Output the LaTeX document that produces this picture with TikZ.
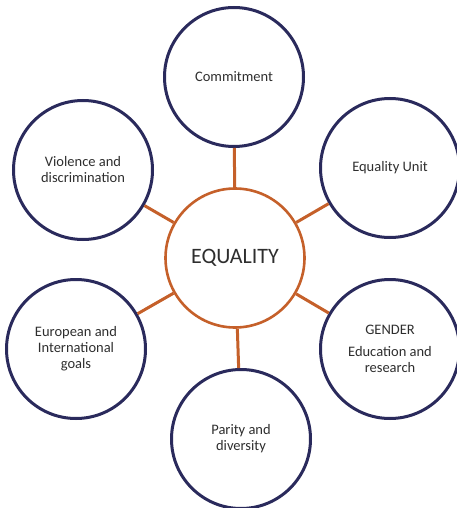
\documentclass[tikz,border=0pt]{standalone}
\usepackage{fontspec}
\setmainfont{Carlito}
\usepackage{xcolor}
\definecolor{navy}{HTML}{2A2A5C}
\definecolor{rust}{HTML}{C5602A}
\definecolor{ink}{HTML}{2E2E2E}

\tikzset{
  hub/.style={circle, draw=rust, line width=2.6pt, minimum size=139pt, inner sep=0pt,
    font=\fontsize{22}{26}\selectfont, text=ink},
  topic/.style={circle, draw=navy, line width=3pt, minimum size=139pt, inner sep=0pt,
    align=center, font=\fontsize{14.5}{16}\selectfont, text=ink},
  spoke/.style={draw=rust, line width=3pt}
}

\begin{document}
\begin{tikzpicture}[x=1pt, y=-1pt]
    \useasboundingbox (0,0) rectangle (456,508);

    % Centro
    \node[hub] (eq) at (235,258) {EQUALITY};

    % Temas
    \foreach \name/\x/\y/\txt in {
        commit/234/77/{Commitment},
        unit/390/168/{Equality Unit},
        gender/390/349/{GENDER\\[6pt]Education and\\research},
        parity/241/439/{Parity and\\diversity},
        europe/76/349/{European and\\International\\goals},
        violence/83/170/{Violence and\\discrimination}} {
      \node[topic] (\name) at (\x,\y) {\txt};
    }

    % Ligacoes
    \foreach \name in {commit, unit, gender, parity, europe, violence} {
      \draw[spoke] (eq) -- (\name);
    }

\end{tikzpicture}
\end{document}
